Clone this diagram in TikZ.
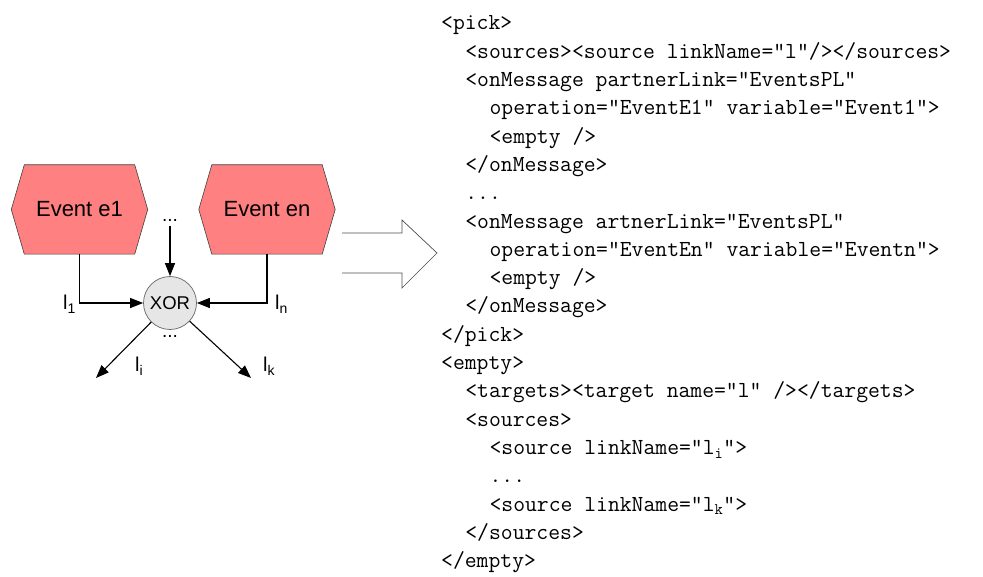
\documentclass[tikz,border=0pt]{standalone}
\usepackage{fontspec}
\newfontfamily\arialf{Liberation Sans}
\usetikzlibrary{arrows.meta,backgrounds,calc}
\definecolor{hexfill}{HTML}{FF8080}
\definecolor{xorfill}{HTML}{E6E6E6}
\begin{document}
\begin{tikzpicture}[x=1pt,y=-1pt,
  hexbox/.style={draw=none,minimum width=110pt,minimum height=89pt,inner sep=0pt,font=\arialf\fontsize{22}{24}\selectfont},
  hexline/.style={draw=black!75,line width=0.6pt,fill=hexfill},
  xorbox/.style={circle,draw=black!60,line width=0.7pt,fill=xorfill,minimum size=53pt,inner sep=0pt,font=\arialf\fontsize{18.5}{20}\selectfont},
  conn/.style={line width=1.1pt,-{Triangle[length=13pt,width=10pt]}},
  lbl/.style={font=\arialf\fontsize{20}{22}\selectfont,inner sep=0pt,anchor=base west},
  dotsnode/.style={font=\arialf\fontsize{19}{20}\selectfont,inner sep=0pt},
  codeline/.style={font=\fontsize{23}{28}\ttfamily,inner sep=0pt,anchor=base west},
  bigarrow/.style={draw=black!70,line width=0.7pt}
]
\useasboundingbox (0,0) rectangle (983,577);

% event nodes
\node[hexbox] (e1) at (79.5,209.5) {Event e1};
\node[hexbox] (en) at (267,209.5) {Event en};
\begin{scope}[on background layer]
\foreach \n in {e1,en}{
  \draw[hexline] ([xshift=-13pt]\n.west) -- (\n.north west) -- (\n.north east)
     -- ([xshift=13pt]\n.east) -- (\n.south east) -- (\n.south west) -- cycle;
}
\end{scope}

\node[xorbox] (xor) at (170,303) {XOR};
\node[dotsnode] (dtop) at (170,220) {...};
\node[dotsnode] (dbot) at (170,336) {...};
\coordinate (oi) at (96,378);
\coordinate (ok) at (251,378);

\draw[conn] (e1) |- (xor);
\draw[conn] (en) |- (xor);
\draw[conn] (dtop.south) ++(0,5) -- (xor.north);
\draw[conn] (xor) -- (oi);
\draw[conn] (xor) -- (ok);

\node[lbl] (l1) at (63,310) {l\textsubscript{1}};
\node[lbl] (ln) at (275,310) {l\textsubscript{n}};
\node[lbl] (li) at (135,372) {l\textsubscript{i}};
\node[lbl] (lk) at (263,372) {l\textsubscript{k}};

% big transformation arrow
\draw[bigarrow] (342,233) -- (402,233) -- (402,220) -- (437,253) -- (402,288) -- (402,273) -- (342,273);

% code
\def\ind{24.2}
\def\lsp{28.3}
\def\lzero{30}
\node[codeline] (c1)  at (441+0*\ind,\lzero+0*\lsp)  {<pick>};
\node[codeline] (c2)  at (441+1*\ind,\lzero+1*\lsp)  {<sources><source linkName="l"/></sources>};
\node[codeline] (c3)  at (441+1*\ind,\lzero+2*\lsp)  {<onMessage partnerLink="EventsPL"};
\node[codeline] (c4)  at (441+2*\ind,\lzero+3*\lsp)  {operation="EventE1" variable="Event1">};
\node[codeline] (c5)  at (441+2*\ind,\lzero+4*\lsp)  {<empty />};
\node[codeline] (c6)  at (441+1*\ind,\lzero+5*\lsp)  {</onMessage>};
\node[codeline] (c7)  at (441+1*\ind,\lzero+6*\lsp)  {...};
\node[codeline] (c8)  at (441+1*\ind,\lzero+7*\lsp)  {<onMessage artnerLink="EventsPL"};
\node[codeline] (c9)  at (441+2*\ind,\lzero+8*\lsp)  {operation="EventEn" variable="Eventn">};
\node[codeline] (c10) at (441+2*\ind,\lzero+9*\lsp)  {<empty />};
\node[codeline] (c11) at (441+1*\ind,\lzero+10*\lsp) {</onMessage>};
\node[codeline] (c12) at (441+0*\ind,\lzero+11*\lsp) {</pick>};
\node[codeline] (c13) at (441+0*\ind,\lzero+12*\lsp) {<empty>};
\node[codeline] (c14) at (441+1*\ind,\lzero+13*\lsp) {<targets><target name="l" /></targets>};
\node[codeline] (c15) at (441+1*\ind,\lzero+14*\lsp) {<sources>};
\node[codeline] (c16) at (441+2*\ind,\lzero+15*\lsp) {<source linkName="l$_{\mathtt{i}}$">};
\node[codeline] (c17) at (441+2*\ind,\lzero+16*\lsp) {...};
\node[codeline] (c18) at (441+2*\ind,\lzero+17*\lsp) {<source linkName="l$_{\mathtt{k}}$">};
\node[codeline] (c19) at (441+1*\ind,\lzero+18*\lsp) {</sources>};
\node[codeline] (c20) at (441+0*\ind,\lzero+19*\lsp) {</empty>};
\end{tikzpicture}
\end{document}
